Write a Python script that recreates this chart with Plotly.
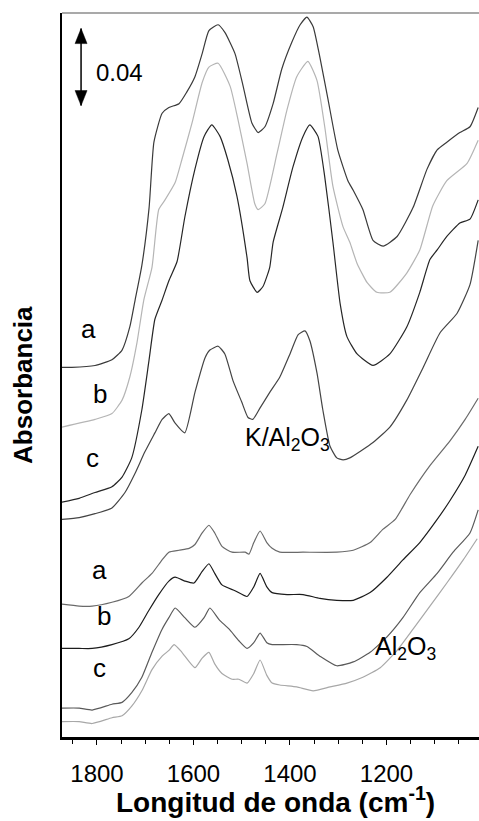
import plotly.graph_objects as go

# ---------------- data (wavenumber cm-1, absorbance incl. offsets) ----------------
# K/Al2O3 group
wn_k_a = [1873,1852,1804,1769,1748,1732,1721,1707,1692,1682,1665,1651,1630,1614,1597,1582,1568,1549,1535,1514,1497,1479,1466,1452,1435,1417,1396,1379,1365,1352,1338,1321,1301,1280,1269,1249,1228,1207,1178,1145,1116,1095,1075,1048,1027,1010]
abs_k_a = [0.192,0.192,0.193,0.196,0.201,0.213,0.227,0.245,0.275,0.309,0.324,0.327,0.329,0.335,0.343,0.355,0.367,0.370,0.366,0.355,0.338,0.319,0.314,0.317,0.329,0.347,0.361,0.370,0.374,0.369,0.353,0.331,0.305,0.289,0.284,0.274,0.258,0.255,0.260,0.275,0.295,0.305,0.309,0.314,0.317,0.327]

wn_k_b = [1873,1804,1769,1748,1732,1717,1703,1686,1672,1659,1638,1624,1603,1582,1568,1549,1524,1508,1489,1473,1466,1452,1427,1406,1386,1363,1344,1328,1311,1290,1276,1261,1240,1220,1193,1158,1131,1104,1075,1033,1010]
abs_k_b = [0.161,0.165,0.168,0.175,0.187,0.205,0.227,0.244,0.274,0.279,0.288,0.300,0.319,0.340,0.348,0.350,0.338,0.321,0.298,0.277,0.274,0.277,0.303,0.326,0.343,0.351,0.341,0.317,0.286,0.265,0.257,0.246,0.236,0.231,0.231,0.241,0.253,0.276,0.289,0.298,0.310]

wn_k_c1 = [1873,1837,1804,1769,1748,1728,1707,1692,1680,1665,1651,1634,1618,1597,1578,1562,1545,1529,1510,1489,1483,1468,1456,1442,1435,1415,1394,1373,1359,1342,1328,1311,1296,1282,1261,1228,1193,1158,1131,1110,1095,1075,1048,1027,1010]
abs_k_c1 = [0.122,0.124,0.127,0.130,0.135,0.145,0.170,0.196,0.217,0.227,0.237,0.247,0.270,0.295,0.312,0.318,0.312,0.300,0.281,0.249,0.237,0.231,0.234,0.244,0.257,0.275,0.296,0.312,0.318,0.312,0.291,0.257,0.225,0.208,0.199,0.193,0.199,0.213,0.231,0.248,0.253,0.260,0.267,0.269,0.279]

wn_k_c2 = [1873,1837,1804,1769,1742,1721,1701,1680,1665,1651,1638,1618,1597,1576,1566,1549,1535,1518,1500,1487,1477,1462,1442,1421,1400,1383,1369,1359,1344,1332,1317,1303,1290,1276,1228,1193,1158,1124,1089,1054,1027,1010]
abs_k_c2 = [0.113,0.114,0.116,0.119,0.127,0.137,0.148,0.158,0.165,0.168,0.163,0.158,0.179,0.197,0.201,0.203,0.199,0.185,0.174,0.166,0.165,0.171,0.179,0.187,0.199,0.209,0.211,0.206,0.189,0.170,0.151,0.145,0.144,0.145,0.153,0.161,0.175,0.192,0.210,0.220,0.235,0.258]

# Al2O3 group
wn_al_a = [1873,1837,1810,1769,1734,1707,1686,1665,1651,1630,1609,1597,1582,1568,1556,1541,1520,1493,1485,1475,1462,1448,1437,1421,1373,1303,1269,1234,1207,1182,1151,1110,1068,1037,1010]
abs_al_a = [0.069,0.068,0.068,0.070,0.073,0.080,0.085,0.092,0.096,0.097,0.098,0.100,0.106,0.110,0.106,0.099,0.096,0.096,0.095,0.101,0.107,0.101,0.098,0.096,0.096,0.096,0.097,0.101,0.108,0.113,0.126,0.141,0.154,0.165,0.176]

wn_al_b = [1873,1837,1810,1769,1734,1713,1692,1672,1651,1638,1618,1599,1582,1568,1556,1541,1514,1489,1475,1462,1448,1437,1406,1373,1338,1303,1269,1234,1199,1166,1131,1095,1068,1037,1010]
abs_al_b = [0.046,0.046,0.046,0.048,0.051,0.057,0.066,0.074,0.081,0.083,0.081,0.080,0.086,0.090,0.085,0.079,0.076,0.073,0.078,0.085,0.078,0.075,0.074,0.074,0.072,0.071,0.071,0.075,0.083,0.092,0.101,0.113,0.123,0.136,0.151]

wn_al_c1 = [1873,1837,1810,1769,1748,1728,1707,1686,1665,1651,1638,1618,1597,1578,1566,1547,1526,1506,1489,1475,1462,1448,1437,1421,1386,1365,1338,1303,1269,1234,1199,1166,1131,1095,1062,1027,1010]
abs_al_c1 = [0.015,0.015,0.014,0.017,0.018,0.023,0.031,0.044,0.056,0.062,0.067,0.062,0.057,0.062,0.067,0.061,0.056,0.050,0.046,0.049,0.054,0.049,0.048,0.048,0.048,0.047,0.042,0.037,0.039,0.044,0.052,0.062,0.075,0.085,0.096,0.106,0.118]

wn_al_c2 = [1873,1837,1810,1769,1748,1728,1707,1686,1665,1651,1640,1624,1597,1582,1568,1556,1541,1520,1506,1489,1475,1462,1448,1437,1421,1386,1352,1317,1282,1249,1213,1178,1145,1110,1075,1041,1012]
abs_al_c2 = [0.008,0.008,0.007,0.010,0.011,0.016,0.024,0.035,0.042,0.045,0.048,0.044,0.036,0.041,0.044,0.038,0.033,0.030,0.030,0.028,0.033,0.040,0.032,0.028,0.027,0.026,0.024,0.026,0.028,0.031,0.036,0.045,0.056,0.068,0.080,0.092,0.103]

tick_vals = [1800, 1600, 1400, 1200]
tick_text = ["1800", "1600", "1400", "1200"]
scale_bar = 0.04

FONT = "Arial, Liberation Sans, sans-serif"

series = [
    ("K/Al2O3 a", wn_k_a, abs_k_a, "#3a3a3a"),
    ("K/Al2O3 b", wn_k_b, abs_k_b, "#b5b5b5"),
    ("K/Al2O3 c", wn_k_c1, abs_k_c1, "#262626"),
    ("K/Al2O3 c'", wn_k_c2, abs_k_c2, "#444444"),
    ("Al2O3 a", wn_al_a, abs_al_a, "#6a6a6a"),
    ("Al2O3 b", wn_al_b, abs_al_b, "#1c1c1c"),
    ("Al2O3 c", wn_al_c1, abs_al_c1, "#5a5a5a"),
    ("Al2O3 c'", wn_al_c2, abs_al_c2, "#a8a8a8"),
]

fig = go.Figure()
for name, x, y, col in series:
    fig.add_trace(go.Scatter(x=x, y=y, mode="lines", name=name, showlegend=False,
                             line=dict(color=col, width=1.2, shape="spline", smoothing=0.5),
                             hoverinfo="skip"))

# scale bar (0.04 absorbance)
bar_x = 1833
bar_top = 0.368
bar_bot = bar_top - scale_bar
shapes = [
    dict(type="line", xref="x", yref="y", x0=bar_x, x1=bar_x, y0=bar_bot, y1=bar_top,
         line=dict(color="black", width=1.5)),
    dict(type="path", xref="x", yref="y", xsizemode="pixel", ysizemode="pixel",
         xanchor=bar_x, yanchor=bar_top, path="M0,0 L-6,-15 L6,-15 Z",
         fillcolor="black", line=dict(color="black", width=0.5)),
    dict(type="path", xref="x", yref="y", xsizemode="pixel", ysizemode="pixel",
         xanchor=bar_x, yanchor=bar_bot, path="M0,0 L-6,15 L6,15 Z",
         fillcolor="black", line=dict(color="black", width=0.5)),
    # top frame line
    dict(type="line", xref="paper", yref="paper", x0=0, x1=1, y0=1, y1=1,
         line=dict(color="#555555", width=1.2)),
]

def ann(text, x, y, size, **kw):
    d = dict(text=text, x=x, y=y, xref="x", yref="y", showarrow=False,
             font=dict(family=FONT, size=size, color="black"),
             xanchor="center", yanchor="middle")
    d.update(kw)
    return d

annotations = [
    ann("0.04", 1754, 0.345, 24),
    ann("a", 1817, 0.212, 26),
    ann("b", 1794, 0.178, 26),
    ann("c", 1810, 0.145, 26),
    ann("a", 1794, 0.087, 26),
    ann("b", 1785, 0.063, 26),
    ann("c", 1794, 0.036, 26),
    ann("K/Al<sub>2</sub>O<sub>3</sub>", 1406, 0.155, 25),
    ann("Al<sub>2</sub>O<sub>3</sub>", 1160, 0.046, 25),
    dict(text="<b>Longitud de onda (cm<sup>-1</sup>)</b>", x=0.511, y=-0.087,
         xref="paper", yref="paper", showarrow=False, xanchor="center", yanchor="middle",
         font=dict(family=FONT, size=28, color="black")),
    dict(text="<b>Absorbancia</b>", x=-0.094, y=0.486, textangle=-90,
         xref="paper", yref="paper", showarrow=False, xanchor="center", yanchor="middle",
         font=dict(family=FONT, size=26, color="black")),
]

fig.update_layout(
    width=479, height=821,
    margin=dict(l=62, r=0, t=13, b=84),
    paper_bgcolor="white", plot_bgcolor="white",
    shapes=shapes, annotations=annotations,
    xaxis=dict(range=[1872.5, 1008.3], showgrid=False, zeroline=False,
               showline=True, linecolor="black", linewidth=2.5,
               ticks="outside", ticklen=5, tickwidth=1, tickcolor="black",
               tickvals=tick_vals, ticktext=tick_text, ticklabelstandoff=8,
               tickfont=dict(family=FONT, size=24, color="black"),
               minor=dict(dtick=50, tick0=1000, ticks="outside", ticklen=4,
                          tickwidth=1, tickcolor="black", showgrid=False)),
    yaxis=dict(range=[0, 0.3761], showgrid=False, zeroline=False,
               showline=True, linecolor="black", linewidth=2,
               showticklabels=False, ticks=""),
)

fig.write_html("out.html")
